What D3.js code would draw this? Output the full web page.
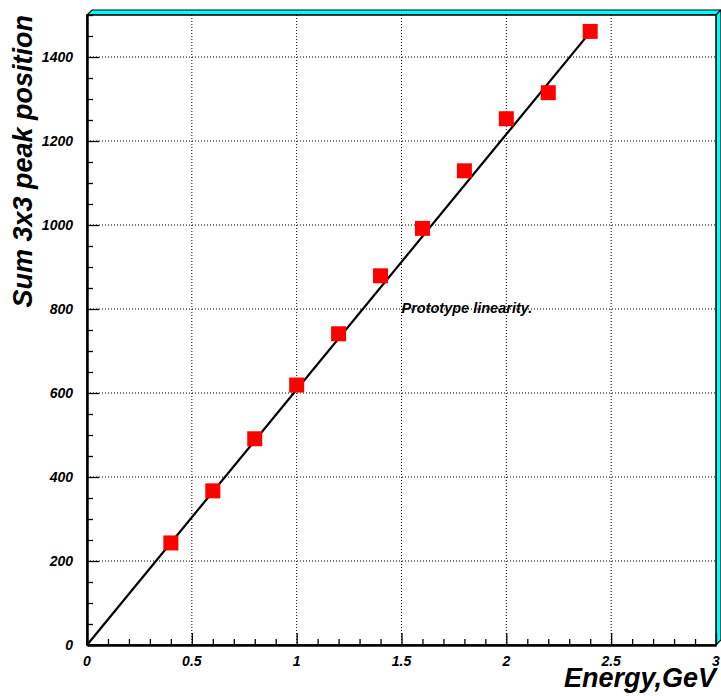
<!DOCTYPE html>
<html>
<head>
<meta charset="utf-8">
<script src="https://cdn.jsdelivr.net/npm/d3@7"></script>
<style>
  html, body { margin: 0; padding: 0; background: #fff; }
  svg text { font-family: "Liberation Sans", Arial, Helvetica, sans-serif; font-weight: bold; font-style: italic; }
</style>
</head>
<body>
<svg id="chart" width="721" height="696"></svg>
<script>
// Beam energy (GeV) and measured 3x3 sum peak position
const energies = [0.4, 0.6, 0.8, 1.0, 1.2, 1.4, 1.6, 1.8, 2.0, 2.2, 2.4];
const peaks    = [243, 367, 491, 619, 741, 879, 992, 1129, 1253, 1315, 1461];

// Linear fit: intercept, slope and drawn range
const fitParams = [0, 608];
const fitRange  = [0, 2.4];

// Axis ticks
const xMajorTicks = [0, 0.5, 1, 1.5, 2, 2.5, 3];
const xTickLabels = ["0", "0.5", "1", "1.5", "2", "2.5", "3"];
const yMajorTicks = [0, 200, 400, 600, 800, 1000, 1200, 1400];
const yTickLabels = ["0", "200", "400", "600", "800", "1000", "1200", "1400"];

const xTitle = "Energy,GeV";
const yTitle = "Sum 3x3 peak position";
const note = "Prototype linearity.";

const svg = d3.select("#chart");
const frame = { left: 87, right: 716, top: 15, bottom: 645 };
const bevel = 5;

const x = d3.scaleLinear().domain([0, 3]).range([frame.left, frame.right]);
const y = d3.scaleLinear().domain([0, 1500]).range([frame.bottom, frame.top]);

// Frame 3D border (top and right faces)
svg.append("polygon")
  .attr("points", [[frame.left, frame.top], [frame.left + bevel, frame.top - bevel],
                   [frame.right + bevel, frame.top - bevel], [frame.right, frame.top]].join(" "))
  .attr("fill", "#00ffff").attr("stroke", "#000").attr("stroke-width", 1.2);
svg.append("polygon")
  .attr("points", [[frame.right, frame.top], [frame.right + bevel, frame.top - bevel],
                   [frame.right + bevel, frame.bottom - bevel], [frame.right, frame.bottom]].join(" "))
  .attr("fill", "#00ffff").attr("stroke", "#000").attr("stroke-width", 1.2);

// Frame outline
svg.append("rect")
  .attr("x", frame.left).attr("y", frame.top)
  .attr("width", frame.right - frame.left).attr("height", frame.bottom - frame.top)
  .attr("fill", "#fff").attr("stroke", "#000").attr("stroke-width", 1.5);

// Grid
const grid = svg.append("g").attr("stroke", "#000").attr("stroke-width", 1).attr("stroke-dasharray", "1,2");
grid.selectAll(".gx").data(xMajorTicks.filter(d => d > 0 && d < 3)).join("line")
  .attr("x1", d => x(d)).attr("x2", d => x(d))
  .attr("y1", frame.top).attr("y2", frame.bottom);
grid.selectAll(".gy").data(yMajorTicks.filter(d => d > 0)).join("line")
  .attr("x1", frame.left).attr("x2", frame.right)
  .attr("y1", d => y(d)).attr("y2", d => y(d));

// X axis (ticks inside)
const xAxis = d3.axisBottom(x)
  .tickValues(d3.range(0, 3.0001, 0.1).map(v => +v.toFixed(1)))
  .tickSizeInner(0).tickSizeOuter(0).tickFormat("");
const gx = svg.append("g").attr("transform", `translate(0,${frame.bottom})`).call(xAxis);
gx.select(".domain").attr("stroke", "#000").attr("stroke-width", 2.5);
gx.selectAll(".tick line")
  .attr("y2", d => (Math.abs(d * 2 - Math.round(d * 2)) < 1e-6) ? -12 : -6)
  .attr("stroke", "#000").attr("stroke-width", 1.3);
svg.append("g").selectAll("text").data(xMajorTicks).join("text")
  .attr("x", d => x(d)).attr("y", frame.bottom + 21)
  .attr("text-anchor", "middle").attr("font-size", 14)
  .text((d, i) => xTickLabels[i]);

// Y axis (ticks inside)
const yAxis = d3.axisLeft(y)
  .tickValues(d3.range(0, 1501, 50))
  .tickSizeInner(0).tickSizeOuter(0).tickFormat("");
const gy = svg.append("g").attr("transform", `translate(${frame.left},0)`).call(yAxis);
gy.select(".domain").attr("stroke", "#000").attr("stroke-width", 2.5);
gy.selectAll(".tick line")
  .attr("x2", d => d % 200 === 0 ? 12 : 6)
  .attr("stroke", "#000").attr("stroke-width", 1.3);
svg.append("g").selectAll("text").data(yMajorTicks).join("text")
  .attr("x", frame.left - 14).attr("y", d => y(d) + 5)
  .attr("text-anchor", "end").attr("font-size", 14)
  .text((d, i) => yTickLabels[i]);

// Fit line
const fitLine = d3.line().x(d => x(d)).y(d => y(fitParams[0] + fitParams[1] * d));
svg.append("path").datum(fitRange)
  .attr("d", fitLine).attr("fill", "none").attr("stroke", "#000").attr("stroke-width", 2.2);

// Data markers
const ms = 15;
svg.append("g").selectAll("rect").data(energies).join("rect")
  .attr("x", d => x(d) - ms / 2)
  .attr("y", (d, i) => y(peaks[i]) - ms / 2)
  .attr("width", ms).attr("height", ms)
  .attr("fill", "#ff0000");

// Annotation
svg.append("text").attr("x", x(1.5)).attr("y", y(790))
  .attr("font-size", 14.5).text(note);

// Axis titles
svg.append("text").attr("x", frame.right).attr("y", 687)
  .attr("text-anchor", "end").attr("font-size", 27).text(xTitle);
svg.append("text")
  .attr("transform", `translate(32, ${frame.top}) rotate(-90)`)
  .attr("text-anchor", "end").attr("font-size", 27).text(yTitle);
</script>
</body>
</html>
